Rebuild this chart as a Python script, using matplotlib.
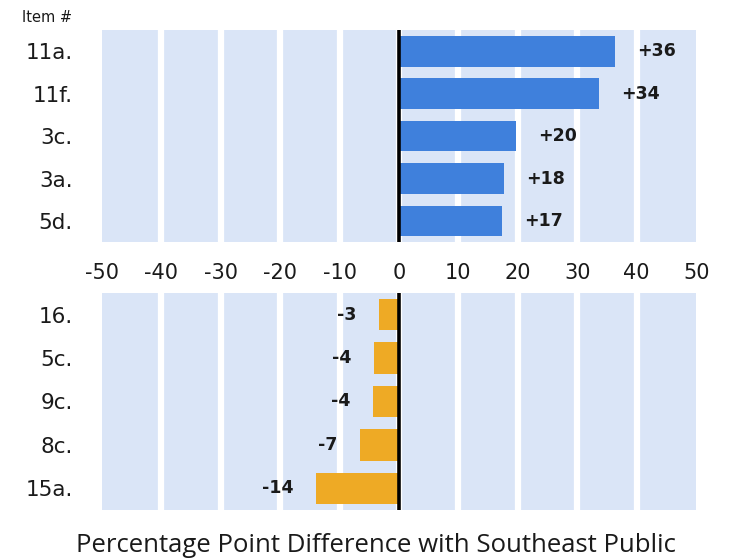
import matplotlib
matplotlib.use("Agg")
import matplotlib.pyplot as plt

# top panel: positive differences
pos_items = ["11a.", "11f.", "3c.", "3a.", "5d."]
pos_vals = [36.4, 33.7, 19.7, 17.6, 17.3]

# bottom panel: negative differences
neg_items = ["16.", "5c.", "9c.", "8c.", "15a."]
neg_vals = [-3.4, -4.2, -4.4, -6.6, -14.0]

ticks = [-50, -40, -30, -20, -10, 0, 10, 20, 30, 40, 50]

plt.rcParams['font.family'] = ['DejaVu Sans']

BG = "#dae5f7"
BLUE = "#3f80dc"
ORANGE = "#eeaa25"
TXT = "#1a1a1a"

fig = plt.figure(figsize=(7.32, 5.58), dpi=100)
ax1 = fig.add_axes([0.139, 0.566, 0.812, 0.380])
ax2 = fig.add_axes([0.139, 0.086, 0.812, 0.389])


def style(ax, items):
    ax.set_facecolor(BG)
    ax.set_xlim(-50, 50)
    ax.set_ylim(len(items) - 0.5, -0.5)
    ax.set_xticks(ticks)
    for t in ticks[1:-1]:
        ax.axvline(t, color="white", lw=4.5, zorder=1)
    ax.axvline(0, color="black", lw=2.6, zorder=4)
    for s in ax.spines.values():
        s.set_visible(False)
    ax.set_yticks(range(len(items)))
    ax.set_yticklabels(items, fontsize=15.5, color=TXT)
    ax.tick_params(axis="both", length=0)
    ax.tick_params(axis="y", pad=21)


style(ax1, pos_items)
ax1.barh(range(len(pos_vals)), pos_vals, height=0.72, color=BLUE, zorder=3)
for i, v in enumerate(pos_vals):
    ax1.annotate(f"{v:+.0f}", (v, i), xytext=(16, 0), textcoords="offset points",
                 ha="left", va="center", fontsize=12.5, fontweight="bold", color=TXT)
ax1.set_xticklabels([str(t) for t in ticks], fontsize=15, color=TXT)
ax1.tick_params(axis="x", pad=15)

style(ax2, neg_items)
ax2.barh(range(len(neg_vals)), neg_vals, height=0.72, color=ORANGE, zorder=3)
for i, v in enumerate(neg_vals):
    ax2.annotate(f"{v:.0f}", (v, i), xytext=(-16, 0), textcoords="offset points",
                 ha="right", va="center", fontsize=12.5, fontweight="bold", color=TXT)
ax2.set_xticklabels([])

fig.text(0.03, 0.968, "Item #", fontsize=10.5, color=TXT, ha="left", va="center")
fig.text(0.514, 0.022, "Percentage Point Difference with Southeast Public",
         fontsize=18.5, color=TXT, ha="center", va="center",
         family=["Open Sans", "DejaVu Sans"])

fig.savefig("out.png", dpi=100)
